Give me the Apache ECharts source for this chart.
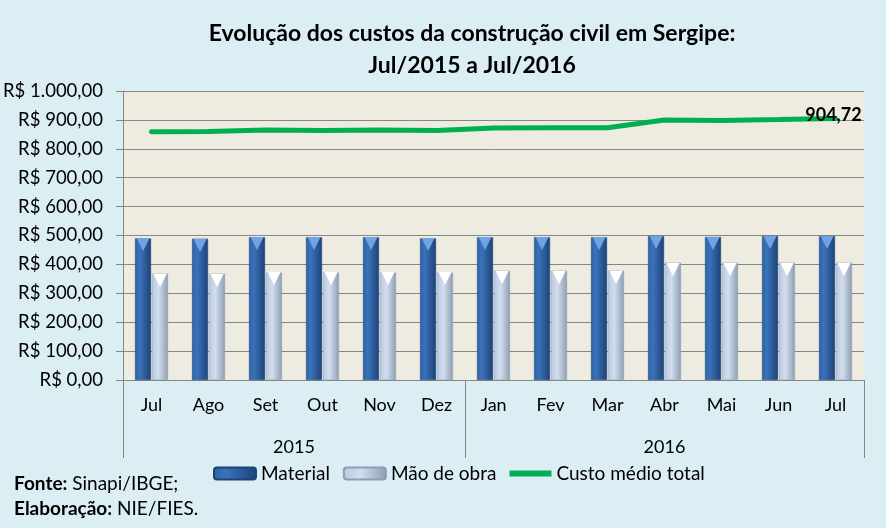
<!DOCTYPE html>
<html>
<head>
<meta charset="utf-8">
<title>Custos da construção civil - Sergipe</title>
<script src="https://cdn.jsdelivr.net/npm/echarts@6/dist/echarts.min.js"></script>
<style>
    html, body { margin: 0; padding: 0; background: #DBEEF4; }
    #grafico { width: 886px; height: 528px; }
</style>
</head>
<body>
<div id="grafico"></div>
<script>
// meses (eixo de baixo)
var meses = ['Jul', 'Ago', 'Set', 'Out', 'Nov', 'Dez', 'Jan', 'Fev', 'Mar', 'Abr', 'Mai', 'Jun', 'Jul'];
// anos e quantos meses cada um ocupa
var anos = ['2015', '2016'];
var mesesPorAno = [6, 7];

// valores (R$)
var material = [490, 489, 494, 494, 494, 490, 494, 494, 494, 498, 495, 498, 498];
var maoDeObra = [368, 368, 372, 372, 372, 372, 378, 378, 378, 406, 406, 406, 406];
var custoTotal = [859, 860, 865, 863, 865, 863, 872, 873, 873, 900, 898, 901, 904.72];

var fonte = 'Lato, "Open Sans", sans-serif';

/**
 * formata em reais: 1000 -> 1.000,00
 */
function formataReal(v) {
    var partes = v.toFixed(2).split('.');
    var inteiro = partes[0].replace(/\B(?=(\d{3})+(?!\d))/g, '.');
    return inteiro + ',' + partes[1];
}

// eixo dos anos: meio-passos, sem boundaryGap (2 pontos por mes + 1)
var eixoAnos = [];
var limites = [0];
var posLabel = [];
var inicio = 0;
for (var i = 0; i < anos.length; i++) {
    posLabel.push(inicio + mesesPorAno[i]); // centro do bloco em meio-passos
    inicio += mesesPorAno[i] * 2;
    limites.push(inicio);
}
for (var k = 0; k <= meses.length * 2; k++) {
    var idx = posLabel.indexOf(k);
    eixoAnos.push(idx >= 0 ? anos[idx] : '');
}

var ultimo = custoTotal.length - 1;

var myChart = echarts.init(document.getElementById('grafico'));

var gradMaterial = new echarts.graphic.LinearGradient(0, 0, 1, 0, [
    { offset: 0, color: '#2E62A6' },
    { offset: 0.3, color: '#3B72BA' },
    { offset: 1, color: '#1D4276' }
]);
var gradMao = new echarts.graphic.LinearGradient(0, 0, 1, 0, [
    { offset: 0, color: '#B6C9E2' },
    { offset: 0.4, color: '#D2DEEE' },
    { offset: 1, color: '#8D9DB2' }
]);

// triangulo no topo das barras (efeito 3D do original)
function topo(cor) {
    return {
        show: true,
        position: 'insideTop',
        distance: -2,
        formatter: '▼',
        fontFamily: 'DejaVu Sans',
        fontSize: 17,
        color: cor
    };
}

var option = {
    backgroundColor: '#DBEEF4',
    animation: false,
    title: {
        text: 'Evolução dos custos da construção civil em Sergipe:\nJul/2015 a Jul/2016',
        left: 467,
        textAlign: 'center',
        top: 13,
        textStyle: {
            fontFamily: fonte,
            fontSize: 23,
            fontWeight: 'bold',
            color: '#000',
            lineHeight: 32
        }
    },
    grid: {
        left: 123,
        right: 22,
        top: 91,
        bottom: 148,
        show: true,
        backgroundColor: '#EEECE1',
        borderWidth: 0
    },
    legend: {
        data: [
            { name: 'Material' },
            { name: 'Mão de obra' },
            { name: 'Custo médio total', icon: 'path://M0,0L42,0L42,6L0,6Z' }
        ],
        top: 459,
        left: 208,
        itemWidth: 42,
        itemHeight: 12,
        itemGap: 13,
        textStyle: { fontFamily: fonte, fontSize: 19, color: '#000' }
    },
    xAxis: [{
        type: 'category',
        data: meses,
        axisLine: { lineStyle: { color: '#868686' } },
        axisTick: { length: 43, lineStyle: { color: '#868686' } },
        axisLabel: { fontFamily: fonte, fontSize: 18, color: '#000', margin: 16 }
    }, {
        type: 'category',
        data: eixoAnos,
        position: 'bottom',
        boundaryGap: false,
        axisLine: { show: false },
        axisTick: {
            length: 78,
            lineStyle: { color: '#868686' },
            interval: function (index) { return limites.indexOf(index) >= 0; }
        },
        axisLabel: {
            fontFamily: fonte, fontSize: 18, color: '#000', margin: 58,
            interval: function (index, value) { return value !== ''; }
        }
    }],
    yAxis: {
        type: 'value',
        min: 0,
        max: 1000,
        interval: 100,
        axisLine: { show: true, lineStyle: { color: '#868686' } },
        axisTick: { show: true, length: 7, lineStyle: { color: '#868686' } },
        splitLine: { lineStyle: { color: '#868686', width: 1 } },
        axisLabel: {
            fontFamily: fonte, fontSize: 18.5, color: '#000', margin: 20,
            formatter: function (v) { return 'R$ ' + formataReal(v); }
        }
    },
    series: [{
        name: 'Material',
        type: 'bar',
        data: material,
        barWidth: 16,
        barGap: '6%',
        itemStyle: { color: gradMaterial, borderColor: '#1D4276', borderWidth: 0.5 },
        label: topo('#6FA3E3')
    }, {
        name: 'Mão de obra',
        type: 'bar',
        data: maoDeObra,
        barWidth: 16,
        itemStyle: { color: gradMao, borderColor: '#8D9DB2', borderWidth: 0.5 },
        label: topo('#FFFFFF')
    }, {
        name: 'Custo médio total',
        type: 'line',
        data: custoTotal,
        showSymbol: false,
        symbol: 'none',
        color: '#00B050',
        lineStyle: { color: '#00B050', width: 5, cap: 'round' },
        z: 5,
        markPoint: {
            symbol: 'circle',
            symbolSize: 1,
            z: 8,
            itemStyle: { color: 'rgba(0,0,0,0)' },
            label: {
                show: true,
                position: 'inside',
                offset: [-2, -3],
                fontFamily: fonte,
                fontSize: 18,
                fontWeight: 'bold',
                color: '#000',
                formatter: function (p) { return formataReal(p.value); }
            },
            data: [{ coord: [ultimo, custoTotal[ultimo]], value: custoTotal[ultimo] }]
        }
    }],
    graphic: [{
        type: 'text',
        left: 14,
        top: 474,
        style: {
            text: '{b|Fonte:} Sinapi/IBGE;',
            rich: { b: { fontWeight: 'bold', fontFamily: fonte, fontSize: 19 } },
            fontFamily: fonte, fontSize: 19, fill: '#000'
        }
    }, {
        type: 'text',
        left: 14,
        top: 499,
        style: {
            text: '{b|Elaboração:} NIE/FIES.',
            rich: { b: { fontWeight: 'bold', fontFamily: fonte, fontSize: 19 } },
            fontFamily: fonte, fontSize: 19, fill: '#000'
        }
    }]
};

myChart.setOption(option);
</script>
</body>
</html>
